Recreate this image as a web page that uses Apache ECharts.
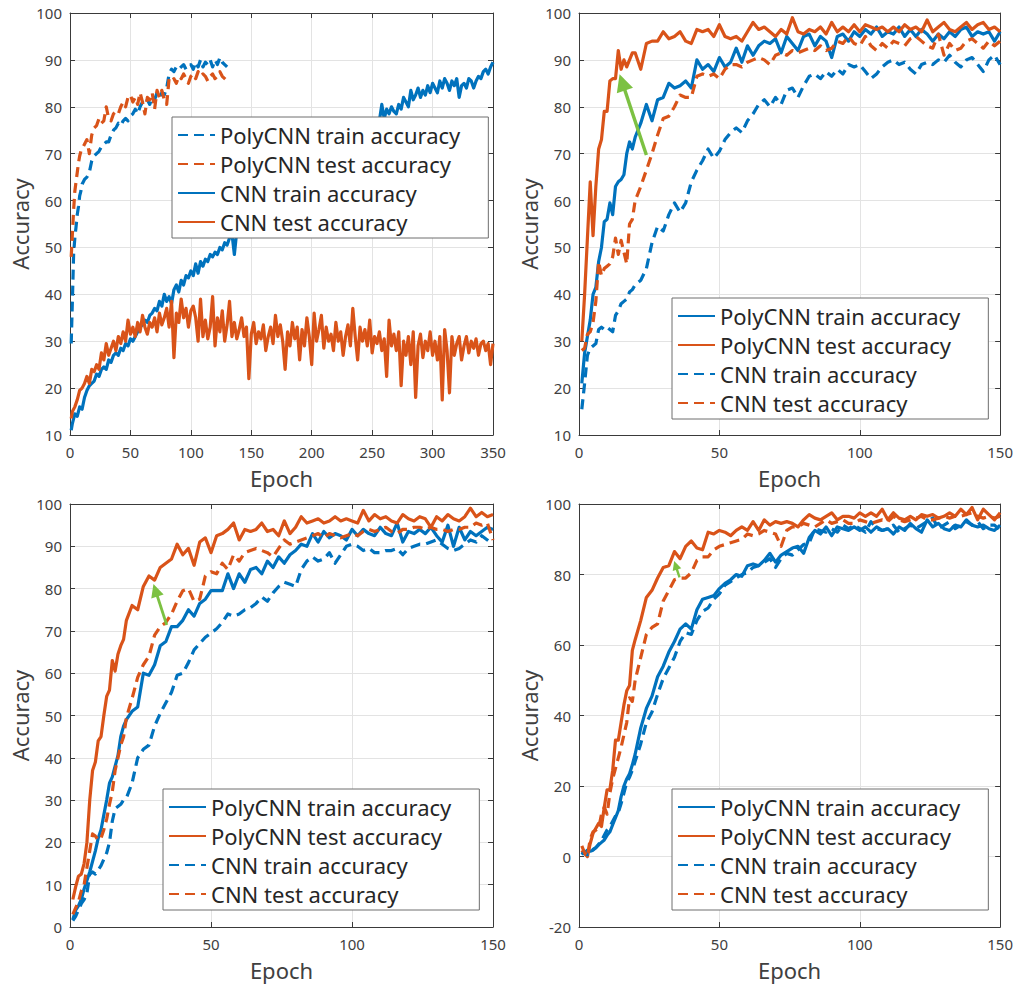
<!DOCTYPE html>
<html>
<head>
<meta charset="utf-8">
<script src="https://cdn.jsdelivr.net/npm/echarts@6/dist/echarts.min.js"></script>
<style>
html,body{margin:0;padding:0;background:#fff;}
#chart{width:1016px;height:987px;}
</style>
</head>
<body>
<div id="chart"></div>
<script>
// ---------- epochs (x values) ----------
const p1PolyEpochs = [1,2,3,4,5,6,7,8,9,10,
 12,14,16,18,20,22,24,26,28,30,
 32,34,36,38,40,42,44,46,48,50,
 52,54,56,58,60,62,64,66,68,70,
 72,74,76,78,80,82,84,86,88,90,
 92,94,96,98,100,102,104,106,108,110,
 112,114,116,118,120,122,124,126,128,130];

const p1CnnEpochs = [1,
 2,4,6,8,10,12,14,16,18,20,
 22,24,26,28,30,32,34,36,38,40,
 42,44,46,48,50,52,54,56,58,60,
 62,64,66,68,70,72,74,76,78,80,
 82,84,86,88,90,92,94,96,98,100,
 102,104,106,108,110,112,114,116,118,120,
 122,124,126,128,130,132,134,136,138,140,
 142,144,146,148,150,152,154,156,158,160,
 162,164,166,168,170,172,174,176,178,180,
 182,184,186,188,190,192,194,196,198,200,
 202,204,206,208,210,212,214,216,218,220,
 222,224,226,228,230,232,234,236,238,240,
 242,244,246,248,250,252,254,256,258,260,
 262,264,266,268,270,272,274,276,278,280,
 282,284,286,288,290,292,294,296,298,300,
 302,304,306,308,310,312,314,316,318,320,
 322,324,326,328,330,332,334,336,338,340,
 342,344,346,348,350];

const epochs150 = [1,2,3,4,5,6,7,8,9,10,11,12,13,14,15,16,17,18,19,20,
 22,24,26,28,30,32,34,36,38,40,
 42,44,46,48,50,52,54,56,58,60,
 62,64,66,68,70,72,74,76,78,80,
 82,84,86,88,90,92,94,96,98,100,
 102,104,106,108,110,112,114,116,118,120,
 122,124,126,128,130,132,134,136,138,140,
 142,144,146,148,150];

// ---------- panel 1 (top-left) ----------
const p1PolyTrain = [29.5,38.8,48.7,52,54.4,57,58.7,61,62,63.5,
 64.5,65,66,68.5,69.5,70,70.5,71.5,72,72.5,
 72.5,74,75,75.5,76.5,76,77,77.5,77,78,
 78.5,79.5,78.5,80,81,80.5,81.5,80.5,82,81.5,
 83,82,83,82.5,84,87,88,87.5,88.5,88,
 88.5,89,88,88.5,89,88,89.5,88.5,90,88.5,
 89.5,89,90,88.5,90,89,90.5,89.5,89,88.5];
const p1PolyTest = [48,53,58,62,64,66,68,69.5,70.5,71,
 72,73,70,74,75.5,76,77.5,76.5,77,80,
 77.5,77,78.5,79,78.5,80,81,80,82,82.5,
 81,82,80.5,83,81,78.5,82,81.5,83,79.5,
 83.5,82,83.5,81.5,80.5,86,85.5,86,85,86.5,
 86,87,86,85,86.5,87,86,87.5,86.5,87,
 86.5,85.5,86.5,87,86,86.5,87.5,86.5,86,85.5];
const p1CnnTrain = [11,
 12.5,14.5,14,16,15.5,18,19.5,20.5,21,21.5,
 23,22.5,24,24.5,24,26,25.5,27,27.5,27,
 28.5,28,29.5,29,30.5,30,31,32,33,33.5,
 34.5,34,35.5,36,37,36.5,38.5,37.5,40,38.5,
 39.5,38,41,42,40.5,43,42,44,43.5,45,
 44,46.5,44.5,47,46,47.5,47,48.5,48,49,
 48.5,50,49.5,51,50.5,52,53,48.5,53.5,54,
 55,54.5,56,57,56.5,58,58.5,58,59.5,60,
 60.5,61,60.5,62,62.5,63,63.5,63,64.5,65,
 65.5,66,65.5,67,67.5,68,68.5,68,69.5,70,
 70.5,70,71,71.5,72,71.5,72.5,73,73.5,73,
 73.5,74,73.5,74,74.5,74,75,75.5,75,75.5,
 75,76,75.5,76,75.5,76.5,76,77,80.5,77.5,
 79.5,78.5,80,79,78.5,80.5,79.5,82,81,80,
 83.5,81.5,82.5,84,82,83.5,82.5,84.5,83,85,
 84,83,85.5,84,86,85,83.5,85.5,84.5,86,
 82,84.5,85,84,86,85.5,84,85.5,86.5,86,
 87.5,88,87,88.5,89.5];
const p1CnnTest = [13.5,
 15,16,17.5,19.5,20,21,22.5,21,24,23.5,
 25,24,27.5,26,29.5,27,28.5,30,28,31,
 29.5,32,30,34.5,31.5,33,31,34,32,35.5,
 33,31.5,34,33,35,32,36,33.5,35,37,
 33,38.5,26.5,36,34,39,35,37,33,36.5,
 37.5,35,30,39,31,34.5,30.5,33,39.5,29,
 35,32,36.5,30,33.5,38.5,31,34,30.5,32.5,
 35,31,33,22,31.5,34,29.5,32,30.5,33.5,
 28,31,33,29.5,35.5,31,33.5,30,24,32,
 29,34,30.5,33,26,32.5,29,35,31,25,
 36,30,32.5,35.5,28.5,33,30,31.5,28,34,
 30,32,27,31,33.5,29,37,31,26,33,
 30,32.5,29,34.5,27.5,31,29.5,32,28,30.5,
 22.5,34.5,29,31.5,28,32,20.5,30,27,31,
 25,32,18,29,31.5,26.5,30,28,32,27,
 30,26,31,17.5,32.5,28,19,31,27,29.5,
 31,26,29,31,27.5,30,28.5,30.5,27,29.5,
 30,28,29.5,25,29.5];

// ---------- panel 2 (top-right) ----------
const p2PolyTrain = [21,27.5,31,34.5,40,41.5,47,50,55.5,56,59.5,57,63,64,64.5,65.5,70,72.5,71,73.5,
 76.5,80.5,77,81.5,82,85,84,84.5,85.5,84,
 90,88,89,87.5,90.5,88.5,89.5,92.5,89.5,93,
 91,93,94,93.5,94.5,91.5,95,93.5,92,95,
 95.5,93,95,94,90.5,95,95.5,94,96,95,
 96.5,95.5,97,95,96,95.5,97,95,96.5,95,
 96.5,95.5,94,95.5,94.5,96,95,96.5,97,95,
 96,95.5,96,94,96];
const p2PolyTest = [30,40,52,64,52.5,63,71,73,79,79,85.5,86,86,92,88,90,88.5,90,91.5,91.5,
 88,93.5,94,94,96,94.5,95,96,94,93.5,
 96.5,96,96.5,95,97.5,95,94.5,95,94,96,
 98,96.5,97,96,95,96.5,95.5,99,96,95.5,
 96.5,96,97,95.5,98,96,97,96,97.5,96,
 97.5,97,96.5,97,96,97,96,97.5,96.5,97,
 96,98.5,96,97,98,96.5,96,97,98,96.5,
 97.5,98,96.5,97,96];
const p2CnnTrain = [15.5,21,27,28.5,29,29.5,32.5,33,32.5,33,32.5,32,35.5,36.5,38,38.5,39,40.5,41,42,
 43,45.5,51,54.5,53.5,57,59.5,57.5,59.5,64,
 66.5,68.5,71,69,70.5,73,74.5,75.5,74.5,77,
 78.5,80.5,81.5,80,82,80.5,83.5,84,82,84.5,
 86.5,87,86,87.5,86.5,88,87,89,88.5,89,
 87.5,86,87,88.5,89.5,90,89,89.5,88,87,
 89,89.5,89,90,89.5,91,89.5,88.5,90,90.5,
 89,87.5,90,91,89];
const p2CnnTest = [28,28.5,31.5,32,34,38.5,47,44,45.5,46,46.5,48,52,48.5,51.5,49,46.5,55,56,60,
 63,66.5,70,74,77.5,78,80,82.5,82,82,
 86.5,87,86.5,87,86,88,89,89,88.5,89.5,
 90,90.5,90,89,91,91.5,91,92,91.5,92,
 92.5,92,93,92,92.5,94,93.5,95,93.5,93,
 95,93,92,93.5,92.5,94,93.5,93,94.5,95,
 94,93,92.5,95.5,91,93.5,92,92.5,94,94.5,
 93.5,92.5,94,93,94];

// ---------- panel 3 (bottom-left) ----------
const p3PolyTrain = [1.7,4,5,6.5,9,11,13,15.5,18,21,23,26.5,30,34,35.5,38,40.5,45,47.5,49,
 51,52,60,59.5,62,66.5,67.5,71,71,72.5,
 75,73.5,76.5,77.5,79.5,79.5,79.5,83.5,80,83.5,
 81.5,84.5,85,83.5,86.5,85,87.5,86,88,89,
 90.5,90,93,91,93.5,92,93,92.5,91.5,94,
 92.5,94,93,92.5,94.5,93,92.5,95.5,91,93.5,
 93,94,93,94.5,92.5,91,95,90,94.5,91.5,
 93.5,92.5,93.5,94.5,94];
const p3PolyTest = [6.5,9.5,12,12.5,15,20,30,37,39,44,45,50,54.5,56,63,60.5,64.5,66.5,68,72.5,
 76,75,80.5,83,82,85,86,87,90.5,88,
 89.5,85.5,91,92,88.5,92.5,93,94,95.5,91.5,
 94,93.5,94,95.5,93.5,94,92.5,96,93,94.5,
 97,95.5,96,96.5,95.5,96,97,96,96.5,96,
 95.5,98.5,96,97.5,96.5,97,96,95.5,97.5,96.5,
 96,97,96.5,94.5,97,96,97.5,96.5,96,97,
 99,97,98,97,97.5];
const p3CnnTrain = [1.5,2.5,4,5.5,6.5,8,12.5,13,12.5,13.5,14.5,16,17.5,20,25,28,28.5,29,30,30.5,
 34,40,42,43,47.5,50.5,53,55.5,59.5,60,
 62.5,65.5,67,68.5,69.5,70.5,72,74,73.5,74,
 75,75.5,76.5,78,77,79,80.5,81.5,81,80.5,
 84.5,86.5,87.5,86.5,87,88.5,86,88,90,90.5,
 90,89,89.5,88.5,88.5,89,89,89.5,88,89.5,
 90,90.5,90.5,91,91.5,90.5,89.5,89,89.5,90.5,
 91.5,91,92.5,91.5,90.5];
const p3CnnTest = [3,4.5,6,8.5,10,14,18,22,21.5,20.5,21,23,25.5,29,32,37,40,43,45,49.5,
 54,59,62,64,69,71,72,74,77,79.5,
 80,77,77.5,83,84,83.5,86,84.5,88,86.5,
 88.5,89,89.5,89,88.5,87.5,89.5,91.5,90.5,91,
 91.5,92,92.5,93,92,93,92.5,92,92.5,93,
 92.5,93.5,94,93.5,94,94.5,93.5,93,94,94,
 94.5,94.5,94,94.5,94,94,93.5,94,94,94.5,
 94.5,95.5,95,95.5,91.5];

// ---------- panel 4 (bottom-right) ----------
const p4PolyTrain = [1.4,0.9,1.8,1.5,1.8,2.5,3.3,4,4.7,6,7,9,11,13,17,20,22,23.5,26,29,
 36.5,42,45.5,51,54,58,61,64.5,66,64.5,
 70,73,73.5,74,76,77.5,78.5,80,79.5,82.5,
 83,82.5,84,86,83.5,85.5,86.5,87.5,88,86,
 90.5,92.5,91.5,93.5,91,93.5,93,92.5,93.5,92.5,
 93.5,92,93.5,92.5,93,91.5,93.5,92.5,94.5,93,
 92,95.5,93.5,94.5,93,92.5,94,93.5,95.5,94,
 93.5,94,93,92.5,94];
const p4PolyTest = [1.8,0.8,0,3.7,6.6,8,9.4,8.5,14,18.9,19,24.5,33,33,38,43,47,48.5,58.5,61.5,
 67,73.5,75.5,79,82,82.5,86.5,84.5,88,89.5,
 87.5,87,92,91.5,92.5,92,91,92.5,93.5,92.5,
 95,92.5,95.5,94,95,94.5,95,94.5,93.5,95.5,
 97,96,95.5,96.5,97.5,95.5,96.5,96.5,96,97.5,
 96.5,97.5,96.5,98.5,95.5,97.5,96,95.5,96.5,95.5,
 97,96.5,97,96,96.5,97.5,96.5,98.5,97,99,
 95.5,98.5,97,95.5,97.5];
const p4CnnTrain = [0.5,1.5,0.5,1,2,2.5,3.5,4.5,6,7.5,8.5,10,11.5,12.5,15,18,21,22.5,24.5,27,
 32,38,41,46,50.5,53.5,56.5,61,63.5,63,
 67,69.5,70.5,73,74.5,77,78,79,80,80.5,
 82,82.5,83.5,84.5,82,84.5,86,85.5,87,88.5,
 89,93,92.5,92,93,92,94,93,94,93,
 92,95,93,92.5,93,94,92,93,94,93,
 94,95,96,93,94,95,93,94,95,94,
 95,93,94,94,92.5];
const p4CnnTest = [3,1,0,5,7,7.5,8,12,14,12,18,22,25,28,31,34.5,38,45,44,50,
 56.5,63,65,66,72.5,75.5,78.5,79,79,80.5,
 84,85,85,87,88,88.5,89,89.5,90,91.5,
 91,91.5,92.5,92,91.5,88,92.5,93.5,93.5,94.5,
 94,93.5,94.5,95.5,94.5,95,95.5,94.5,94.5,95.5,
 95,94.5,95,95.5,95,96.5,95.5,95,95.5,96,
 96.5,95.5,95.5,96,96.5,96,96.5,96.5,97,97.5,
 96.5,96,96.5,96,96.5];

// ---------- annotation arrows (data coords: tail, head) ----------
const p2Arrow = [[24, 69.7], [15.4, 85.2]];
const p3Arrow = [[34.3, 71.4], [30.3, 79.6]];
const p4Arrow = [[35.8, 79.2], [34.4, 82.6]];

// ---------- axis ranges [min, max, interval] ----------
const xRange350 = [0, 350, 50];
const xRange150 = [0, 150, 50];
const yRangeP1 = [10, 100, 10];
const yRangeP2 = [10, 100, 10];
const yRangeP3 = [0, 100, 10];
const yRangeP4 = [-20, 100, 20];

// ---------- legend labels ----------
const lblPolyTrain = 'PolyCNN train accuracy';
const lblPolyTest = 'PolyCNN test accuracy';
const lblCnnTrain = 'CNN train accuracy';
const lblCnnTest = 'CNN test accuracy';

// ---------- styling ----------
const BLUE = '#0072BD';
const ORANGE = '#D95319';
const GREEN = '#7CC142';
const FONT = 'Noto Sans';
const AXIS_COLOR = '#3a3a3a';
const LABEL_COLOR = '#404040';
const GRID_COLOR = '#e3e3e3';
const DASH = [10, 6];
const LW = 3.2;

const panels = [
  {
    grid: {left: 70, top: 13, width: 423, height: 422},
    x: xRange350, y: yRangeP1,
    legendPos: {left: 172, top: 117},
    series: [
      {label: lblPolyTrain, x: p1PolyEpochs, y: p1PolyTrain, color: BLUE, dashed: true},
      {label: lblPolyTest, x: p1PolyEpochs, y: p1PolyTest, color: ORANGE, dashed: true},
      {label: lblCnnTrain, x: p1CnnEpochs, y: p1CnnTrain, color: BLUE, dashed: false},
      {label: lblCnnTest, x: p1CnnEpochs, y: p1CnnTest, color: ORANGE, dashed: false}
    ],
    arrow: null
  },
  {
    grid: {left: 579, top: 13, width: 423, height: 422},
    x: xRange150, y: yRangeP2,
    legendPos: {left: 672, top: 298},
    series: [
      {label: lblPolyTrain, x: epochs150, y: p2PolyTrain, color: BLUE, dashed: false},
      {label: lblPolyTest, x: epochs150, y: p2PolyTest, color: ORANGE, dashed: false},
      {label: lblCnnTrain, x: epochs150, y: p2CnnTrain, color: BLUE, dashed: true},
      {label: lblCnnTest, x: epochs150, y: p2CnnTest, color: ORANGE, dashed: true}
    ],
    arrow: {pts: p2Arrow, size: 17, width: 3.4}
  },
  {
    grid: {left: 70, top: 504, width: 423, height: 423},
    x: xRange150, y: yRangeP3,
    legendPos: {left: 163, top: 789},
    series: [
      {label: lblPolyTrain, x: epochs150, y: p3PolyTrain, color: BLUE, dashed: false},
      {label: lblPolyTest, x: epochs150, y: p3PolyTest, color: ORANGE, dashed: false},
      {label: lblCnnTrain, x: epochs150, y: p3CnnTrain, color: BLUE, dashed: true},
      {label: lblCnnTest, x: epochs150, y: p3CnnTest, color: ORANGE, dashed: true}
    ],
    arrow: {pts: p3Arrow, size: 13, width: 2.8}
  },
  {
    grid: {left: 579, top: 504, width: 423, height: 423},
    x: xRange150, y: yRangeP4,
    legendPos: {left: 672, top: 789},
    series: [
      {label: lblPolyTrain, x: epochs150, y: p4PolyTrain, color: BLUE, dashed: false},
      {label: lblPolyTest, x: epochs150, y: p4PolyTest, color: ORANGE, dashed: false},
      {label: lblCnnTrain, x: epochs150, y: p4CnnTrain, color: BLUE, dashed: true},
      {label: lblCnnTest, x: epochs150, y: p4CnnTest, color: ORANGE, dashed: true}
    ],
    arrow: {pts: p4Arrow, size: 9, width: 2.4}
  }
];

const grid = [], xAxis = [], yAxis = [], series = [], legend = [];

panels.forEach((p, i) => {
  grid.push(Object.assign({show: false}, p.grid));
  const baseLine = {show: true, onZero: false, lineStyle: {color: AXIS_COLOR, width: 1}};
  const tick = {show: true, inside: true, length: 5, lineStyle: {color: AXIS_COLOR, width: 1}};
  // bottom x
  xAxis.push({
    type: 'value', gridIndex: i, position: 'bottom',
    min: p.x[0], max: p.x[1], interval: p.x[2],
    axisLine: baseLine, axisTick: tick,
    axisLabel: {color: LABEL_COLOR, fontSize: 15, fontFamily: FONT, margin: 9},
    splitLine: {show: true, lineStyle: {color: GRID_COLOR, width: 1}},
    name: 'Epoch', nameLocation: 'middle', nameGap: 32,
    nameTextStyle: {color: LABEL_COLOR, fontSize: 22, fontFamily: FONT}
  });
  // top x (box + ticks)
  xAxis.push({
    type: 'value', gridIndex: i, position: 'top',
    min: p.x[0], max: p.x[1], interval: p.x[2],
    axisLine: baseLine, axisTick: tick,
    axisLabel: {show: false}, splitLine: {show: false}
  });
  // left y
  yAxis.push({
    type: 'value', gridIndex: i, position: 'left',
    min: p.y[0], max: p.y[1], interval: p.y[2],
    axisLine: baseLine, axisTick: tick,
    axisLabel: {color: LABEL_COLOR, fontSize: 15, fontFamily: FONT, margin: 8},
    splitLine: {show: true, lineStyle: {color: GRID_COLOR, width: 1}},
    name: 'Accuracy', nameLocation: 'middle', nameGap: 39,
    nameTextStyle: {color: LABEL_COLOR, fontSize: 22, fontFamily: FONT}
  });
  // right y
  yAxis.push({
    type: 'value', gridIndex: i, position: 'right',
    min: p.y[0], max: p.y[1], interval: p.y[2],
    axisLine: baseLine, axisTick: tick,
    axisLabel: {show: false}, splitLine: {show: false}
  });

  const names = [];
  p.series.forEach((s, k) => {
    const name = s.label + '#' + (i + 1);
    names.push(name);
    const ser = {
      type: 'line', name: name,
      xAxisIndex: 2 * i, yAxisIndex: 2 * i,
      data: s.x.map((e, j) => [e, s.y[j]]),
      symbol: 'none', showSymbol: false, smooth: false,
      lineStyle: {color: s.color, width: LW, type: s.dashed ? DASH : 'solid', cap: 'butt', join: 'round'},
      itemStyle: {color: s.color},
      emphasis: {disabled: true}, silent: true, animation: false
    };
    if (k === p.series.length - 1 && p.arrow) {
      ser.markLine = {
        silent: true, animation: false,
        symbol: ['none', 'triangle'], symbolSize: p.arrow.size,
        label: {show: false}, emphasis: {disabled: true},
        lineStyle: {color: GREEN, width: p.arrow.width, type: 'solid'},
        itemStyle: {color: GREEN},
        data: [[{coord: p.arrow.pts[0]}, {coord: p.arrow.pts[1]}]]
      };
    }
    series.push(ser);
  });

  legend.push({
    show: true, orient: 'vertical',
    left: p.legendPos.left, top: p.legendPos.top,
    data: names, selectedMode: false,
    itemWidth: 37, itemHeight: 22, itemGap: 7,
    padding: [7, 28, 5, 5],
    backgroundColor: '#ffffff', borderColor: '#6e6e6e', borderWidth: 1, borderRadius: 0,
    textStyle: {fontFamily: FONT, fontSize: 22, color: '#262626', lineHeight: 22},
    itemStyle: {opacity: 0},
    formatter: n => n.split('#')[0]
  });
});

const chart = echarts.init(document.getElementById('chart'), null, {renderer: 'svg'});
chart.setOption({
  animation: false,
  backgroundColor: '#ffffff',
  textStyle: {fontFamily: FONT},
  grid: grid, xAxis: xAxis, yAxis: yAxis, legend: legend, series: series
});
</script>
</body>
</html>
